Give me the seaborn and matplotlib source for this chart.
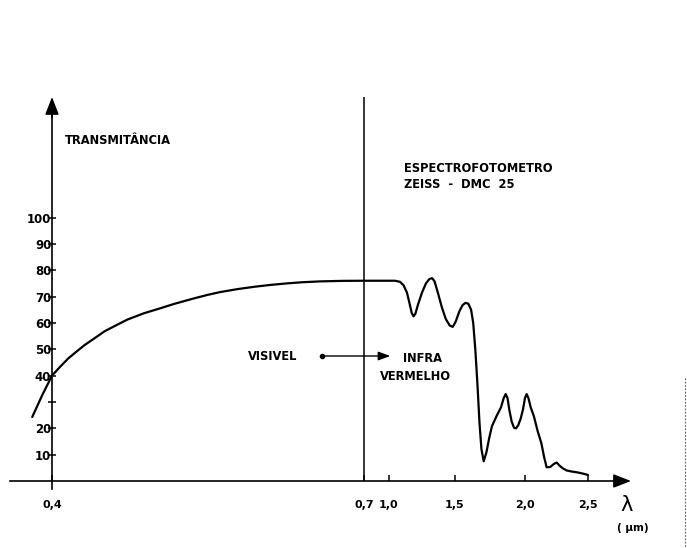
import numpy as np
import pandas as pd
import matplotlib
matplotlib.use("Agg")
import matplotlib.pyplot as plt
from matplotlib.lines import Line2D
import seaborn as sns

# Transmission spectrum (wavelength in micrometres, transmittance in %)
wavelength_um = [
    0.381, 0.3905, 0.400, 0.4077, 0.4156, 0.4235, 0.4314, 0.441, 0.4505, 0.4632,
    0.4727, 0.4887, 0.5013, 0.5174, 0.5365, 0.5492, 0.5617, 0.578, 0.5943, 0.6097,
    0.626, 0.6413, 0.6577, 0.679, 0.700, 1.045, 1.083, 1.110, 1.136, 1.155,
    1.172, 1.186, 1.200, 1.220, 1.250, 1.280, 1.305, 1.326, 1.345, 1.370,
    1.400, 1.430, 1.460, 1.483, 1.505, 1.532, 1.555, 1.575, 1.595, 1.615,
    1.630, 1.645, 1.660, 1.675, 1.689, 1.705, 1.725, 1.745, 1.764, 1.800,
    1.829, 1.848, 1.862, 1.875, 1.888, 1.905, 1.922, 1.936, 1.952, 1.968,
    1.985, 2.000, 2.013, 2.027, 2.045, 2.071, 2.100, 2.130, 2.152, 2.172,
    2.200, 2.230, 2.251, 2.275, 2.300, 2.331, 2.370, 2.413, 2.460, 2.500,
]
transmittance = [
    24.3, 32.5, 40.0, 43.3, 46.5, 49.1, 51.6, 54.2, 56.8, 59.4,
    61.3, 63.7, 65.2, 67.2, 69.3, 70.6, 71.7, 72.8, 73.7, 74.4,
    75.0, 75.45, 75.75, 75.95, 76.0, 76.0, 75.6, 74.3, 71.5, 67.5,
    63.8, 62.5, 63.5, 67.0, 71.5, 75.0, 76.6, 77.0, 75.8, 71.5,
    66.0, 61.5, 59.0, 58.5, 60.5, 64.5, 66.8, 67.6, 67.3, 65.0,
    60.0, 50.0, 37.0, 22.0, 12.0, 7.5, 11.0, 16.5, 20.8, 25.0,
    28.0, 31.5, 33.0, 31.5, 27.0, 22.5, 20.2, 20.0, 21.2, 23.5,
    27.0, 31.5, 33.0, 31.5, 28.0, 24.5, 19.0, 14.3, 9.0, 5.2,
    5.3, 6.5, 7.0, 5.8, 4.8, 4.0, 3.6, 3.3, 2.8, 2.3,
]

x_ticks = [0.4, 0.7, 1.0, 1.5, 2.0, 2.5]
x_tick_labels = ["0,4", "0,7", "1,0", "1,5", "2,0", "2,5"]
y_ticks = [10, 20, 30, 40, 50, 60, 70, 80, 90, 100]
y_tick_labels = ["10", "20", "", "40", "50", "60", "70", "80", "90", "100"]
visible_ir_boundary = 0.7

# Broken wavelength axis: the visible band is stretched, the infrared compressed
BREAK_UM = np.array([0.4, 0.7, 1.0, 1.5, 2.0, 2.5])
BREAK_POS = np.array([52.0, 364.0, 389.0, 455.0, 525.0, 588.0])
SLOPE_LO = (BREAK_POS[1] - BREAK_POS[0]) / (BREAK_UM[1] - BREAK_UM[0])
SLOPE_HI = (BREAK_POS[-1] - BREAK_POS[-2]) / (BREAK_UM[-1] - BREAK_UM[-2])


def fwd(x):
    x = np.asarray(x, dtype=float)
    y = np.interp(x, BREAK_UM, BREAK_POS)
    y = np.where(x < BREAK_UM[0], BREAK_POS[0] + (x - BREAK_UM[0]) * SLOPE_LO, y)
    y = np.where(x > BREAK_UM[-1], BREAK_POS[-1] + (x - BREAK_UM[-1]) * SLOPE_HI, y)
    return y


def inv(p):
    p = np.asarray(p, dtype=float)
    x = np.interp(p, BREAK_POS, BREAK_UM)
    x = np.where(p < BREAK_POS[0], BREAK_UM[0] + (p - BREAK_POS[0]) / SLOPE_LO, x)
    x = np.where(p > BREAK_POS[-1], BREAK_UM[-1] + (p - BREAK_POS[-1]) / SLOPE_HI, x)
    return x


W, H = 687, 548
sns.set_theme(style="white")
plt.rcParams["font.family"] = ["DejaVu Sans"]

fig = plt.figure(figsize=(W / 100, H / 100), dpi=100)
ax = fig.add_axes([0, 0, 1, 1])
ax.set_xscale("function", functions=(fwd, inv))
ax.set_xlim(float(inv(0)), float(inv(W)))
px_per_unit = 2.635
y0_px = 481
ax.set_ylim(-(H - y0_px) / px_per_unit, y0_px / px_per_unit)

df = pd.DataFrame({"lambda_um": wavelength_um, "transmitancia": transmittance})
sns.lineplot(data=df, x="lambda_um", y="transmitancia", ax=ax, color="black",
             lw=1.6, sort=False, estimator=None)
ax.set_xlabel("")
ax.set_ylabel("")

# Axes drawn as arrows through the origin
for side in ("top", "right"):
    ax.spines[side].set_visible(False)
ax.spines["left"].set_position(("data", 0.4))
ax.spines["bottom"].set_position(("data", 0))
y_top = (y0_px - 97) / px_per_unit
x_right = float(inv(631))
ax.spines["left"].set_bounds(-3, y_top - 4)
ax.spines["bottom"].set_bounds(float(inv(10)), float(inv(622)))
for side in ("left", "bottom"):
    ax.spines[side].set_color("black")
    ax.spines[side].set_linewidth(1.2)

arrow = dict(arrowstyle="-|>,head_length=0.9,head_width=0.35", color="black",
             lw=1.1, shrinkA=0, shrinkB=0)
ax.annotate("", xy=(0.4, y_top), xytext=(0.4, y_top - 8), arrowprops=arrow)
ax.annotate("", xy=(x_right, 0), xytext=(float(inv(618)), 0), arrowprops=arrow)

ax.set_xticks(x_ticks)
ax.set_xticklabels(x_tick_labels)
ax.xaxis.set_minor_locator(matplotlib.ticker.NullLocator())
ax.set_yticks(y_ticks)
ax.set_yticklabels(y_tick_labels)
ax.tick_params(axis="x", bottom=True, direction="in", length=4, width=1.1,
               color="black", pad=14, labelsize=8, labelcolor="black")
ax.tick_params(axis="y", left=True, direction="inout", length=6, width=1.1,
               color="black", pad=-2.5, labelsize=8.5, labelcolor="black")
for lab in ax.get_xticklabels() + ax.get_yticklabels():
    lab.set_fontweight("bold")
ax.grid(False)

# Visible / infrared boundary
ax.vlines(visible_ir_boundary, 0, y_top, color="black", lw=1.1)

# Visible -> infrared arrow
arrow_level = (y0_px - 356) / px_per_unit
ax.annotate("", xy=(1.01, arrow_level), xytext=(0.66, arrow_level),
            arrowprops=dict(arrowstyle="-|>,head_length=0.6,head_width=0.22",
                            color="black", lw=1.0, shrinkA=0, shrinkB=0))
ax.plot([0.66], [arrow_level], marker="o", ms=3, color="black")


def put(x, y, s, **kw):
    fig.text(x / W, 1 - y / H, s, color="black", **kw)


lbl = dict(fontsize=8.3, fontweight="bold", va="center")
put(65, 140, "TRANSMITÂNCIA", **lbl)
put(404, 168, "ESPECTROFOTOMETRO", **lbl)
put(404, 184, "ZEISS  -  DMC  25", **lbl)
put(248, 356, "VISIVEL", **lbl)
put(403, 358, "INFRA", **lbl)
put(380, 376, "VERMELHO", **lbl)
put(627, 505, "λ", fontsize=15, ha="center", va="center")
put(633, 528, "( μm)", fontsize=7.5, fontweight="bold", ha="center", va="center")

# Scanner edge mark along the right border
fig.add_artist(Line2D([685 / W, 685 / W], [1 - 378 / H, 0], ls=(0, (1.5, 1.5)),
                      lw=0.8, color="0.35"))

fig.savefig("out.png", dpi=100, facecolor="white")
